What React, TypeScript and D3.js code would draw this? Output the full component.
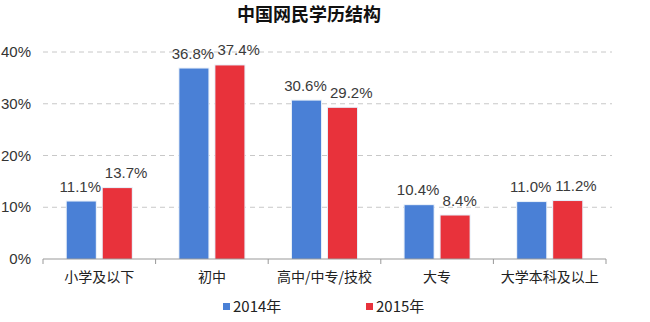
import React from "react";
import * as d3 from "d3";

const categories = ["小学及以下", "初中", "高中/中专/技校", "大专", "大学本科及以上"];
const series2014 = [11.1, 36.8, 30.6, 10.4, 11.0];
const series2015 = [13.7, 37.4, 29.2, 8.4, 11.2];
const seriesNames = ["2014年", "2015年"];
const yTicks = [0, 10, 20, 30, 40];
const title = "中国网民学历结构";

const colors = ["#4a80d6", "#e8323b"];
const W = 650, H = 322;
const left = 43, right = 606, top = 52, bottom = 259;
const font = "'Noto Sans CJK SC', 'Noto Sans', sans-serif";
const numFont = "Arial, 'Liberation Sans', sans-serif";

export default function App() {
  const x = d3.scaleBand<string>().domain(categories).range([left, right]).paddingInner(0).paddingOuter(0);
  const y = d3.scaleLinear().domain([0, 40]).range([bottom, top]);
  const barW = 29, gap = 7;
  const data = [series2014, series2015];
  return (
    <svg width={W} height={H} style={{ position: "absolute", left: 0, top: 0, background: "#fff" }} fontFamily={font}>
      <rect x={0} y={0} width={W} height={H} fill="#fff" />
      <text x={309} y={21} textAnchor="middle" fontSize={18} fontWeight="bold" fill="#111">{title}</text>
      {yTicks.map((t) => (
        <g key={t}>
          {t > 0 && (
            <line x1={left} x2={right + 6} y1={y(t)} y2={y(t)} stroke="#c8c8c8" strokeWidth={1} strokeDasharray="5,4" />
          )}
          <text x={31} y={y(t) + 5} textAnchor="end" fontSize={15} fill="#333" fontFamily={numFont}>{t}%</text>
        </g>
      ))}
      {categories.map((c, i) => {
        const cx = (x(c) as number) + x.bandwidth() / 2;
        return (
          <g key={c}>
            {data.map((s, j) => {
              const bx = j === 0 ? cx - gap / 2 - barW : cx + gap / 2;
              const v = s[i];
              return (
                <g key={j}>
                  <rect x={bx - 1} y={y(v) - 1} width={barW + 2} height={bottom - y(v) + 1} fill="#e6eef8" />
                  <rect x={bx} y={y(v)} width={barW} height={bottom - y(v)} fill={colors[j]} />
                  <text
                    x={j === 0 ? bx + barW / 2 - 1 : bx + 2}
                    y={y(v) - 10}
                    textAnchor={j === 0 ? "middle" : "start"}
                    fontSize={15}
                    fill="#3a3a3a"
                    fontFamily={numFont}
                  >
                    {v.toFixed(1)}%
                  </text>
                </g>
              );
            })}
            <text x={cx} y={282} textAnchor="middle" fontSize={14} fill="#222">{c}</text>
          </g>
        );
      })}
      <line x1={left} x2={right} y1={bottom} y2={bottom} stroke="#999" strokeWidth={1.2} />
      {d3.range(categories.length + 1).map((i) => {
        const tx = left + i * x.bandwidth();
        return <line key={i} x1={tx} x2={tx} y1={bottom} y2={bottom + 5} stroke="#999" strokeWidth={1} />;
      })}
      {seriesNames.map((n, j) => {
        const lx = j === 0 ? 223 : 366;
        return (
          <g key={n}>
            <rect x={lx} y={303} width={7} height={7} fill={colors[j]} />
            <text x={lx + 10} y={312} fontSize={15} fill="#222">{n}</text>
          </g>
        );
      })}
    </svg>
  );
}
